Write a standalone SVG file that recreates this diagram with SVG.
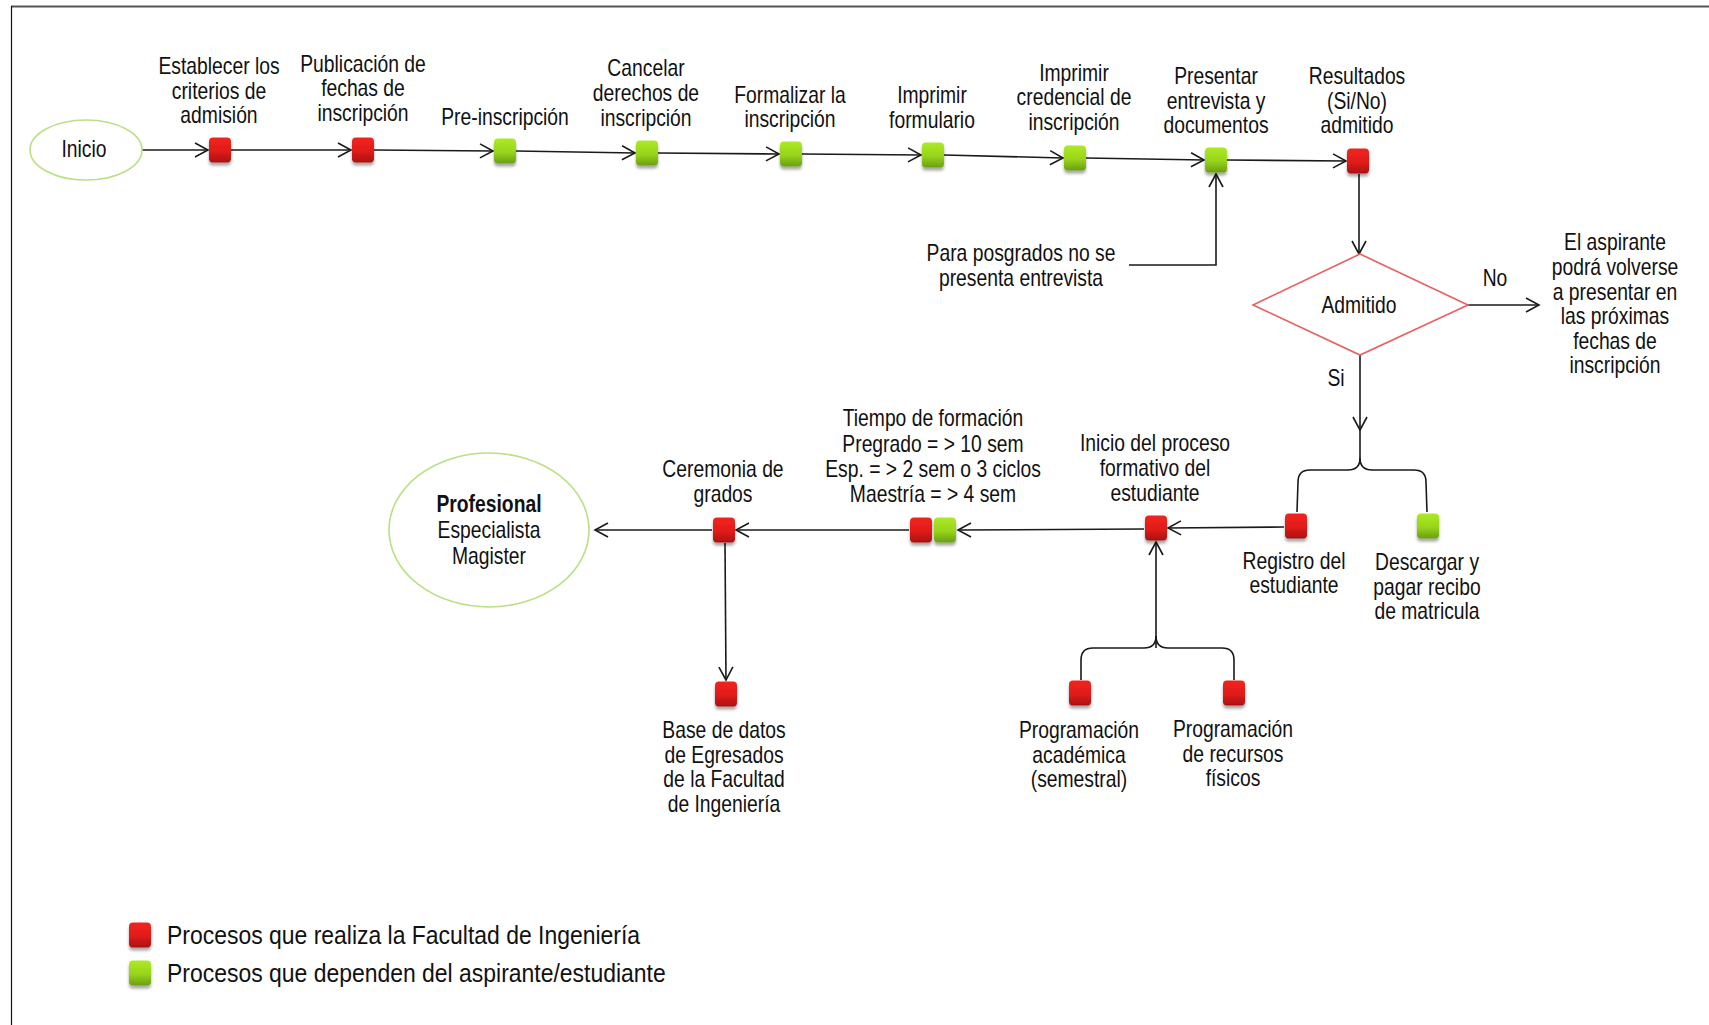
<svg xmlns="http://www.w3.org/2000/svg" width="1709" height="1025" viewBox="0 0 1709 1025">
  <style>
    .t { font-family: "Liberation Sans Narrow", "Liberation Sans", Arial, sans-serif; font-size: 23px; fill: #111; text-anchor: middle;
         transform-box: fill-box; transform-origin: center; transform: scaleX(0.84); }
    .lg { font-family: "Liberation Sans Narrow", "Liberation Sans", Arial, sans-serif; font-size: 25.5px; fill: #111;
          transform-box: fill-box; transform-origin: left center; transform: scaleX(0.9); }
    .b { font-weight: bold; }
    .ln { fill: none; stroke: #1a1a1a; stroke-width: 1.6; }
    .arr { marker-end: url(#chev); }
    .red { fill: url(#gRed); filter: url(#sh); }
    .grn { fill: url(#gGrn); filter: url(#sh); }
    .oval { fill: #fff; stroke: #b9e084; stroke-width: 1.6; }
    .dia { fill: #fff; stroke: #e85f60; stroke-width: 1.6; }
  </style>
  <defs>
    <linearGradient id="gRed" x1="0" y1="0" x2="0" y2="1">
      <stop offset="0" stop-color="#f22420"/>
      <stop offset="0.55" stop-color="#e01c18"/>
      <stop offset="1" stop-color="#a81010"/>
    </linearGradient>
    <linearGradient id="gGrn" x1="0" y1="0" x2="0" y2="1">
      <stop offset="0" stop-color="#acea24"/>
      <stop offset="0.55" stop-color="#98d41c"/>
      <stop offset="1" stop-color="#6a9e12"/>
    </linearGradient>
    <filter id="sh" x="-50%" y="-50%" width="200%" height="220%">
      <feDropShadow dx="0" dy="3" stdDeviation="1.6" flood-color="#000" flood-opacity="0.35"/>
    </filter>
    <marker id="chev" markerUnits="userSpaceOnUse" markerWidth="16" markerHeight="16" refX="13" refY="7" orient="auto" overflow="visible">
      <path d="M0,0 L13,7 L0,14" fill="none" stroke="#1a1a1a" stroke-width="1.6"/>
    </marker>
  </defs>

  <rect width="1709" height="1025" fill="#fff"/>
  <!-- frame -->
  <line x1="11" y1="6.5" x2="1709" y2="6.5" stroke="#555" stroke-width="1.8"/>
  <line x1="11.5" y1="6" x2="11.5" y2="1025" stroke="#111" stroke-width="1.2"/>

  <!-- connectors -->
  <g id="connectors">
    <path class="ln arr" d="M142,150 L208,150"/>
    <path class="ln arr" d="M231,150 L351,150"/>
    <path class="ln arr" d="M374,150 L493,151"/>
    <path class="ln arr" d="M516,151 L635,153"/>
    <path class="ln arr" d="M658,153 L779,154"/>
    <path class="ln arr" d="M802,154 L921,155"/>
    <path class="ln arr" d="M944,155 L1063,158"/>
    <path class="ln arr" d="M1086,158 L1204,160"/>
    <path class="ln arr" d="M1227,160 L1346,161"/>
    <path class="ln arr" d="M1129,265 L1216,265 L1216,174"/>
    <path class="ln arr" d="M1359,174 L1359,254"/>
    <path class="ln arr" d="M1468,305 L1539,305"/>
    <path class="ln arr" d="M1360,355 L1360,430"/>
    <path class="ln" d="M1360,430 L1360,458 Q1360,470 1348,470 L1310,470 Q1298,470 1298,482 L1297,512"/>
    <path class="ln" d="M1360,458 Q1360,470 1372,470 L1414,470 Q1426,470 1426,482 L1427,512"/>
    <path class="ln arr" d="M1284,527 L1168,528"/>
    <path class="ln arr" d="M1156,648 L1156,542"/>
    <path class="ln" d="M1156,636 Q1156,648 1144,648 L1093,648 Q1081,648 1081,660 L1081,680"/>
    <path class="ln" d="M1156,636 Q1156,648 1168,648 L1222,648 Q1234,648 1234,660 L1234,680"/>
    <path class="ln arr" d="M1144,529 L958,530"/>
    <path class="ln arr" d="M909,530 L736,530"/>
    <path class="ln arr" d="M712,530 L595,530"/>
    <path class="ln arr" d="M725,543 L726,680"/>
  </g>

  <!-- start -->
  <g id="inicio">
    <ellipse class="oval" cx="86" cy="150" rx="56" ry="30"/>
    <text class="t" x="84" y="157">Inicio</text>
  </g>

  <g id="n1">
    <rect class="red" x="209" y="137.5" width="22" height="25" rx="4"/>
    <text class="t" x="219" y="74">Establecer los</text>
    <text class="t" x="219" y="99">criterios de</text>
    <text class="t" x="219" y="123">admisión</text>
  </g>
  <g id="n2">
    <rect class="red" x="352" y="137.5" width="22" height="25" rx="4"/>
    <text class="t" x="363" y="72">Publicación de</text>
    <text class="t" x="363" y="96">fechas de</text>
    <text class="t" x="363" y="121">inscripción</text>
  </g>
  <g id="n3">
    <rect class="grn" x="494" y="138.5" width="22" height="25" rx="4"/>
    <text class="t" x="505" y="125">Pre-inscripción</text>
  </g>
  <g id="n4">
    <rect class="grn" x="636" y="140.5" width="22" height="25" rx="4"/>
    <text class="t" x="646" y="76">Cancelar</text>
    <text class="t" x="646" y="101">derechos de</text>
    <text class="t" x="646" y="126">inscripción</text>
  </g>
  <g id="n5">
    <rect class="grn" x="780" y="141.5" width="22" height="25" rx="4"/>
    <text class="t" x="790" y="103">Formalizar la</text>
    <text class="t" x="790" y="127">inscripción</text>
  </g>
  <g id="n6">
    <rect class="grn" x="922" y="142.5" width="22" height="25" rx="4"/>
    <text class="t" x="932" y="103">Imprimir</text>
    <text class="t" x="932" y="128">formulario</text>
  </g>
  <g id="n7">
    <rect class="grn" x="1064" y="145.5" width="22" height="25" rx="4"/>
    <text class="t" x="1074" y="81">Imprimir</text>
    <text class="t" x="1074" y="105">credencial de</text>
    <text class="t" x="1074" y="130">inscripción</text>
  </g>
  <g id="n8">
    <rect class="grn" x="1205" y="147.5" width="22" height="25" rx="4"/>
    <text class="t" x="1216" y="84">Presentar</text>
    <text class="t" x="1216" y="109">entrevista y</text>
    <text class="t" x="1216" y="133">documentos</text>
  </g>
  <g id="n9">
    <rect class="red" x="1347" y="148.5" width="22" height="25" rx="4"/>
    <text class="t" x="1357" y="84">Resultados</text>
    <text class="t" x="1357" y="109">(Si/No)</text>
    <text class="t" x="1357" y="133">admitido</text>
  </g>

  <g id="nota-posgrado">
    <text class="t" x="1021" y="261">Para posgrados no se</text>
    <text class="t" x="1021" y="286">presenta entrevista</text>
  </g>

  <g id="decision">
    <polygon class="dia" points="1360,254 1468,305 1360,355 1253,305"/>
    <text class="t" x="1359" y="313">Admitido</text>
    <text class="t" x="1495" y="286">No</text>
    <text class="t" x="1336" y="386">Si</text>
  </g>

  <g id="no-admitido">
    <text class="t" x="1615" y="250">El aspirante</text>
    <text class="t" x="1615" y="275">podrá volverse</text>
    <text class="t" x="1615" y="300">a presentar en</text>
    <text class="t" x="1615" y="324">las próximas</text>
    <text class="t" x="1615" y="349">fechas de</text>
    <text class="t" x="1615" y="373">inscripción</text>
  </g>

  <g id="registro">
    <rect class="red" x="1285" y="513.5" width="22" height="25" rx="4"/>
    <text class="t" x="1294" y="569">Registro del</text>
    <text class="t" x="1294" y="593">estudiante</text>
  </g>
  <g id="descargar">
    <rect class="grn" x="1417" y="513.5" width="22" height="25" rx="4"/>
    <text class="t" x="1427" y="570">Descargar y</text>
    <text class="t" x="1427" y="595">pagar recibo</text>
    <text class="t" x="1427" y="619">de matricula</text>
  </g>

  <g id="inicio-proceso">
    <rect class="red" x="1145" y="515.5" width="22" height="25" rx="4"/>
    <text class="t" x="1155" y="451">Inicio del proceso</text>
    <text class="t" x="1155" y="476">formativo del</text>
    <text class="t" x="1155" y="501">estudiante</text>
  </g>

  <g id="prog-academica">
    <rect class="red" x="1069" y="680.5" width="22" height="25" rx="4"/>
    <text class="t" x="1079" y="738">Programación</text>
    <text class="t" x="1079" y="763">académica</text>
    <text class="t" x="1079" y="787">(semestral)</text>
  </g>
  <g id="prog-recursos">
    <rect class="red" x="1223" y="680.5" width="22" height="25" rx="4"/>
    <text class="t" x="1233" y="737">Programación</text>
    <text class="t" x="1233" y="762">de recursos</text>
    <text class="t" x="1233" y="786">físicos</text>
  </g>

  <g id="tiempo-formacion">
    <rect class="red" x="910" y="517.5" width="22" height="25" rx="4"/>
    <rect class="grn" x="934" y="517.5" width="22" height="25" rx="4"/>
    <text class="t" x="933" y="426">Tiempo de formación</text>
    <text class="t" x="933" y="452">Pregrado = &gt; 10 sem</text>
    <text class="t" x="933" y="477">Esp. = &gt; 2 sem o 3 ciclos</text>
    <text class="t" x="933" y="502">Maestría = &gt; 4 sem</text>
  </g>

  <g id="ceremonia">
    <rect class="red" x="713" y="517.5" width="22" height="25" rx="4"/>
    <text class="t" x="723" y="477">Ceremonia de</text>
    <text class="t" x="723" y="502">grados</text>
  </g>

  <g id="profesional">
    <ellipse class="oval" cx="489" cy="530" rx="100" ry="77"/>
    <text class="t b" x="489" y="512">Profesional</text>
    <text class="t" x="489" y="538">Especialista</text>
    <text class="t" x="489" y="564">Magister</text>
  </g>

  <g id="base-egresados">
    <rect class="red" x="715" y="681.5" width="22" height="25" rx="4"/>
    <text class="t" x="724" y="738">Base de datos</text>
    <text class="t" x="724" y="763">de Egresados</text>
    <text class="t" x="724" y="787">de la Facultad</text>
    <text class="t" x="724" y="812">de Ingeniería</text>
  </g>

  <g id="leyenda">
    <rect class="red" x="129" y="922.5" width="22" height="25" rx="4"/>
    <text class="lg" x="167" y="944">Procesos que realiza la Facultad de Ingeniería</text>
    <rect class="grn" x="129" y="960.5" width="22" height="25" rx="4"/>
    <text class="lg" x="167" y="982">Procesos que dependen del aspirante/estudiante</text>
  </g>
</svg>
